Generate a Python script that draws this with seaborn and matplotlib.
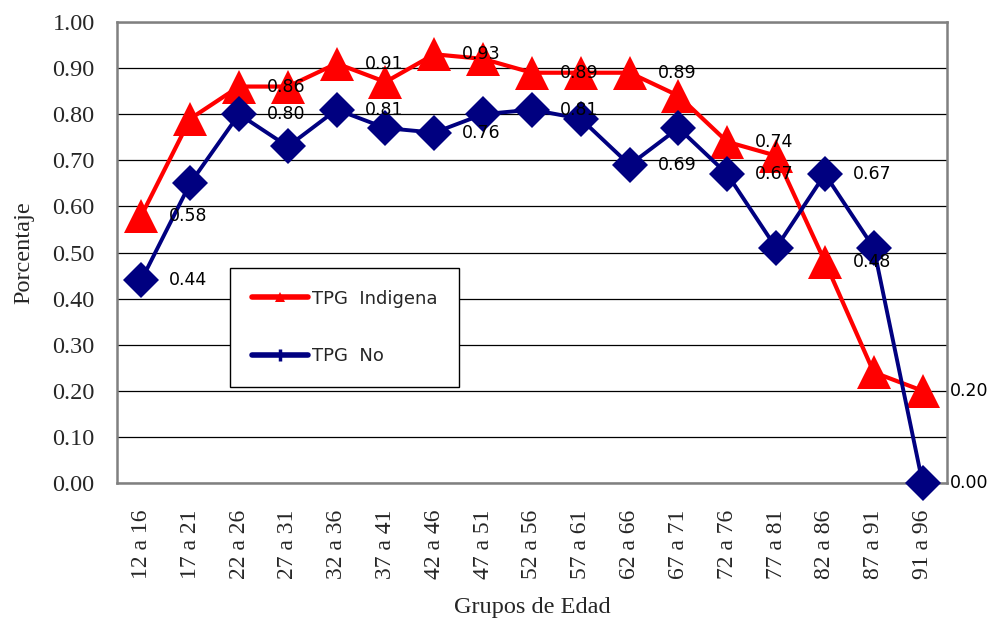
import numpy as np
import pandas as pd
import matplotlib
matplotlib.use('Agg')
import matplotlib.pyplot as plt
import seaborn as sns
from matplotlib.lines import Line2D

grupos = ['12 a 16', '17 a 21', '22 a 26', '27 a 31', '32 a 36', '37 a 41', '42 a 46',
          '47 a 51', '52 a 56', '57 a 61', '62 a 66', '67 a 71', '72 a 76', '77 a 81',
          '82 a 86', '87 a 91', '91 a 96']
tpg_indigena = [0.58, 0.79, 0.86, 0.86, 0.91, 0.87, 0.93, 0.92, 0.89, 0.89, 0.89,
                0.84, 0.74, 0.71, 0.48, 0.24, 0.20]
tpg_no = [0.44, 0.65, 0.80, 0.73, 0.81, 0.77, 0.76, 0.80, 0.81, 0.79, 0.69,
          0.77, 0.67, 0.51, 0.67, 0.51, 0.00]

df = pd.DataFrame({'grupo': grupos, 'indigena': tpg_indigena, 'no': tpg_no})

sns.set_style('white')
plt.rcParams['font.family'] = ['DejaVu Sans']

fig = plt.figure(figsize=(9.91, 6.22), dpi=100)
ax = fig.add_axes([0.118, 0.2235, 0.8376, 0.7411])

red = '#FF0000'
navy = '#000080'

sns.lineplot(data=df, x='grupo', y='indigena', ax=ax, color=red, lw=3,
             marker='^', markersize=25, markeredgewidth=0, sort=False, clip_on=False, zorder=3)
sns.lineplot(data=df, x='grupo', y='no', ax=ax, color=navy, lw=2.8,
             marker='D', markersize=18, markeredgewidth=0, sort=False, clip_on=False, zorder=4)

# etiquetas de datos cada dos grupos
for i in range(0, len(grupos), 2):
    for v in (tpg_indigena[i], tpg_no[i]):
        ax.annotate(f'{v:.2f}', (i, v), xytext=(20, 0), textcoords='offset points',
                    ha='left', va='center', fontsize=12.5, color='black', zorder=6,
                    annotation_clip=False)

ax.set_xlim(-0.5, len(grupos) - 0.5)
ax.set_ylim(0, 1.0)
ax.set_yticks(np.arange(0, 1.01, 0.1))
ax.set_yticklabels([f'{t:.2f}' for t in np.arange(0, 1.01, 0.1)],
                   fontfamily='Liberation Serif', fontsize=17.5)
ax.set_xticks(range(len(grupos)))
ax.set_xticklabels(grupos, rotation=90, fontfamily='Liberation Serif', fontsize=17)
ax.set_xticks(np.arange(-0.5, len(grupos), 1), minor=True)
ax.tick_params(axis='x', which='major', length=0, pad=19)
ax.tick_params(axis='x', which='minor', length=7, width=1, color='#404040', direction='out')
ax.tick_params(axis='y', length=6, width=1, color='#404040', direction='out', pad=10)

ax.yaxis.grid(True, color='black', lw=0.9)
ax.set_axisbelow(True)
for s in ax.spines.values():
    s.set_visible(True)
    s.set_color('#808080')
    s.set_linewidth(1.8)

ax.set_xlabel('Grupos de Edad', fontfamily='Liberation Serif', fontsize=17.5, labelpad=13)
ax.set_ylabel('Porcentaje', fontfamily='Liberation Serif', fontsize=17.5, labelpad=13)

handles = [Line2D([0], [0], color=red, lw=4, marker='^', markersize=7, markeredgewidth=0),
           Line2D([0], [0], color=navy, lw=4, marker='|', markersize=9, markeredgewidth=2.5)]
leg = ax.legend(handles, ['TPG  Indigena', 'TPG  No'], loc='upper left',
                bbox_to_anchor=(0.232, 0.569), bbox_transform=fig.transFigure,
                fontsize=13, frameon=True, fancybox=False, shadow=False,
                borderaxespad=0, borderpad=1.2, labelspacing=2.2, handlelength=3.1,
                handletextpad=0.25)
leg.get_frame().set_edgecolor('black')
leg.get_frame().set_linewidth(1.0)
leg.get_frame().set_alpha(1)
leg.set_zorder(5)

fig.savefig('out.png', dpi=100)
